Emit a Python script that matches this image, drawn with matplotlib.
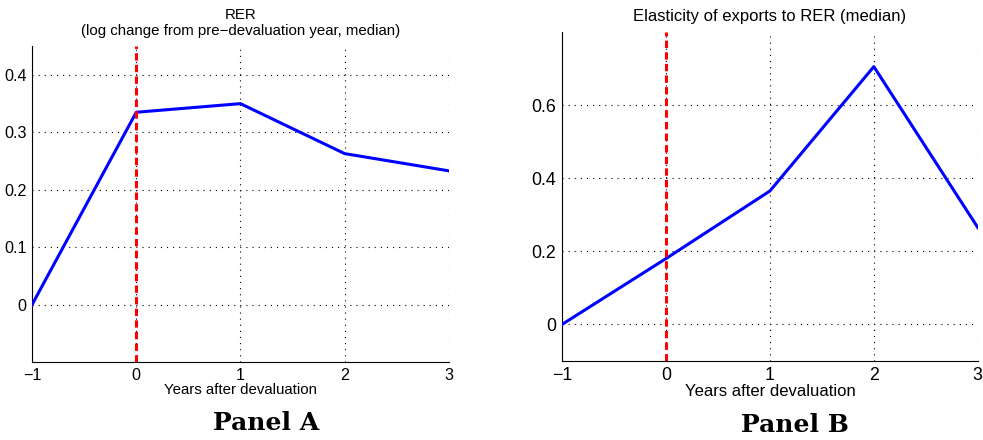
import matplotlib
matplotlib.use("Agg")
import matplotlib.pyplot as plt

plt.rcParams['font.family'] = ['Liberation Sans', 'DejaVu Sans']

years = [-1, 0, 1, 2, 3]
rer_change = [0.0, 0.335, 0.35, 0.263, 0.233]
elasticity = [0.0, 0.18, 0.365, 0.705, 0.265]

year_labels = ['\u22121', '0', '1', '2', '3']
rer_ticks = [0, 0.1, 0.2, 0.3, 0.4]
elas_ticks = [0, 0.2, 0.4, 0.6]


def draw_panel(ax, series, yticks, ylim, fs):
    ax.plot(years, series, color='#0000ff', linewidth=2.2, zorder=3)
    # devaluation year marker
    ax.axvline(0, color='#ff0000', linestyle=(0, (2.4, 1.4)), linewidth=2.2, zorder=4)
    ax.set_xlim(-1, 3)
    ax.set_ylim(*ylim)
    ax.set_xticks(years)
    ax.set_xticklabels(year_labels)
    ax.set_yticks(yticks)
    ax.set_yticklabels([f"{t:g}" for t in yticks])
    ax.grid(True, color='black', linestyle=(0, (1, 4.5)), linewidth=0.8)
    for side in ['top', 'right']:
        ax.spines[side].set_visible(False)
    ax.tick_params(direction='in', length=0, labelsize=fs + 0.8, pad=4)
    ax.set_xlabel('Years after devaluation', fontsize=fs, labelpad=0)


fig = plt.figure(figsize=(9.83, 4.4), dpi=100)

ax1 = fig.add_axes([0.0326, 0.177, 0.424, 0.718])
draw_panel(ax1, rer_change, rer_ticks, (-0.1, 0.45), 10.8)
ax1.set_title('RER\n(log change from pre\u2212devaluation year, median)', fontsize=10.8, pad=8,
              linespacing=1.2)

ax2 = fig.add_axes([0.5717, 0.1795, 0.423, 0.748])
draw_panel(ax2, elasticity, elas_ticks, (-0.1, 0.8), 12)
ax2.set_title('Elasticity of exports to RER (median)', fontsize=12, pad=8)

fig.text(0.271, 0.038, 'Panel A', fontsize=18, fontweight='bold', family='DejaVu Serif',
         ha='center', va='center')
fig.text(0.809, 0.034, 'Panel B', fontsize=18, fontweight='bold', family='DejaVu Serif',
         ha='center', va='center')

fig.savefig('out.png', dpi=100)
